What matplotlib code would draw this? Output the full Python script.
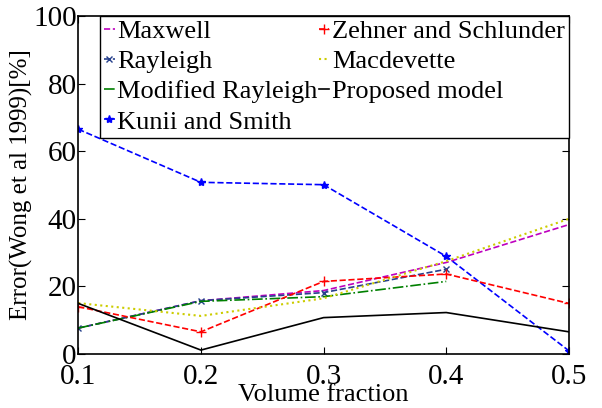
import numpy as np
import matplotlib
matplotlib.use('Agg')
import matplotlib.pyplot as plt

plt.rcParams['font.family'] = 'Liberation Serif'
plt.rcParams['mathtext.fontset'] = 'stix'

vf = [0.1, 0.2, 0.3, 0.4, 0.5]
vf4 = [0.1, 0.2, 0.3, 0.4]

maxwell = [7.7, 15.8, 18.8, 27.1, 38.3]
rayleigh = [7.7, 15.8, 18.2, 25.1]
mod_rayleigh = [7.7, 15.6, 17.0, 21.5]
kunii = [66.5, 50.8, 50.1, 28.9, 1.0]
zehner = [14.0, 6.6, 21.5, 23.7, 15.0]
macdevette = [15.1, 11.3, 16.5, 27.5, 40.0]
proposed = [15.0, 1.2, 10.8, 12.3, 6.6]

fig = plt.figure(figsize=(6.02, 4.08), dpi=100)
ax = fig.add_axes([0.13, 0.132, 0.815, 0.829])

l1, = ax.plot(vf, maxwell, color=(0.75, 0, 0.75), ls='--', lw=1.2, label='Maxwell')
l2, = ax.plot(vf4, rayleigh, color=(0.15, 0.25, 0.55), ls='--', lw=1.2, marker='x', ms=5, label='Rayleigh')
l3, = ax.plot(vf4, mod_rayleigh, color=(0, 0.5, 0), ls='-.', lw=1.2, label='Modified Rayleigh')
l4, = ax.plot(vf, kunii, color=(0, 0, 1), ls='--', lw=1.2, marker='*', ms=6, label='Kunii and Smith')
l5, = ax.plot(vf, zehner, color=(1, 0, 0), ls='--', lw=1.2, marker='+', ms=7, label='Zehner and Schlunder')
l6, = ax.plot(vf, macdevette, color=(0.8, 0.8, 0), ls=':', lw=1.5, label='Macdevette')
l7, = ax.plot(vf, proposed, color='black', ls='-', lw=1.2, label='Proposed model')

ax.set_xlim(0.1, 0.5)
ax.set_ylim(0, 100)
ax.set_xticks(vf)
ax.set_xticklabels(['0.1', '0.2', '0.3', '0.4', '0.5'])
ax.set_yticks([0, 20, 40, 60, 80, 100])
ax.tick_params(direction='in', labelsize=21, right=True, top=True, length=5)
ax.tick_params(axis='x', pad=7)
ax.tick_params(axis='y', pad=1)
for s in ax.spines.values():
    s.set_linewidth(1.2)

ax.set_xlabel('Volume fraction', fontsize=19, labelpad=-4)
ax.set_ylabel('Error(Wong et al 1999)[%]', fontsize=18, labelpad=0)

leg = ax.legend(handles=[l1, l2, l3, l4, l5, l6, l7], ncol=2, loc='upper right',
                bbox_to_anchor=(1.0, 1.0), borderaxespad=0, fontsize=19,
                handlelength=0.4, handletextpad=0.1, columnspacing=0.05,
                labelspacing=0.25, borderpad=0.15, fancybox=False, framealpha=1,
                edgecolor='black')
leg.get_frame().set_linewidth(1.0)

fig.savefig('out.png', dpi=100)
